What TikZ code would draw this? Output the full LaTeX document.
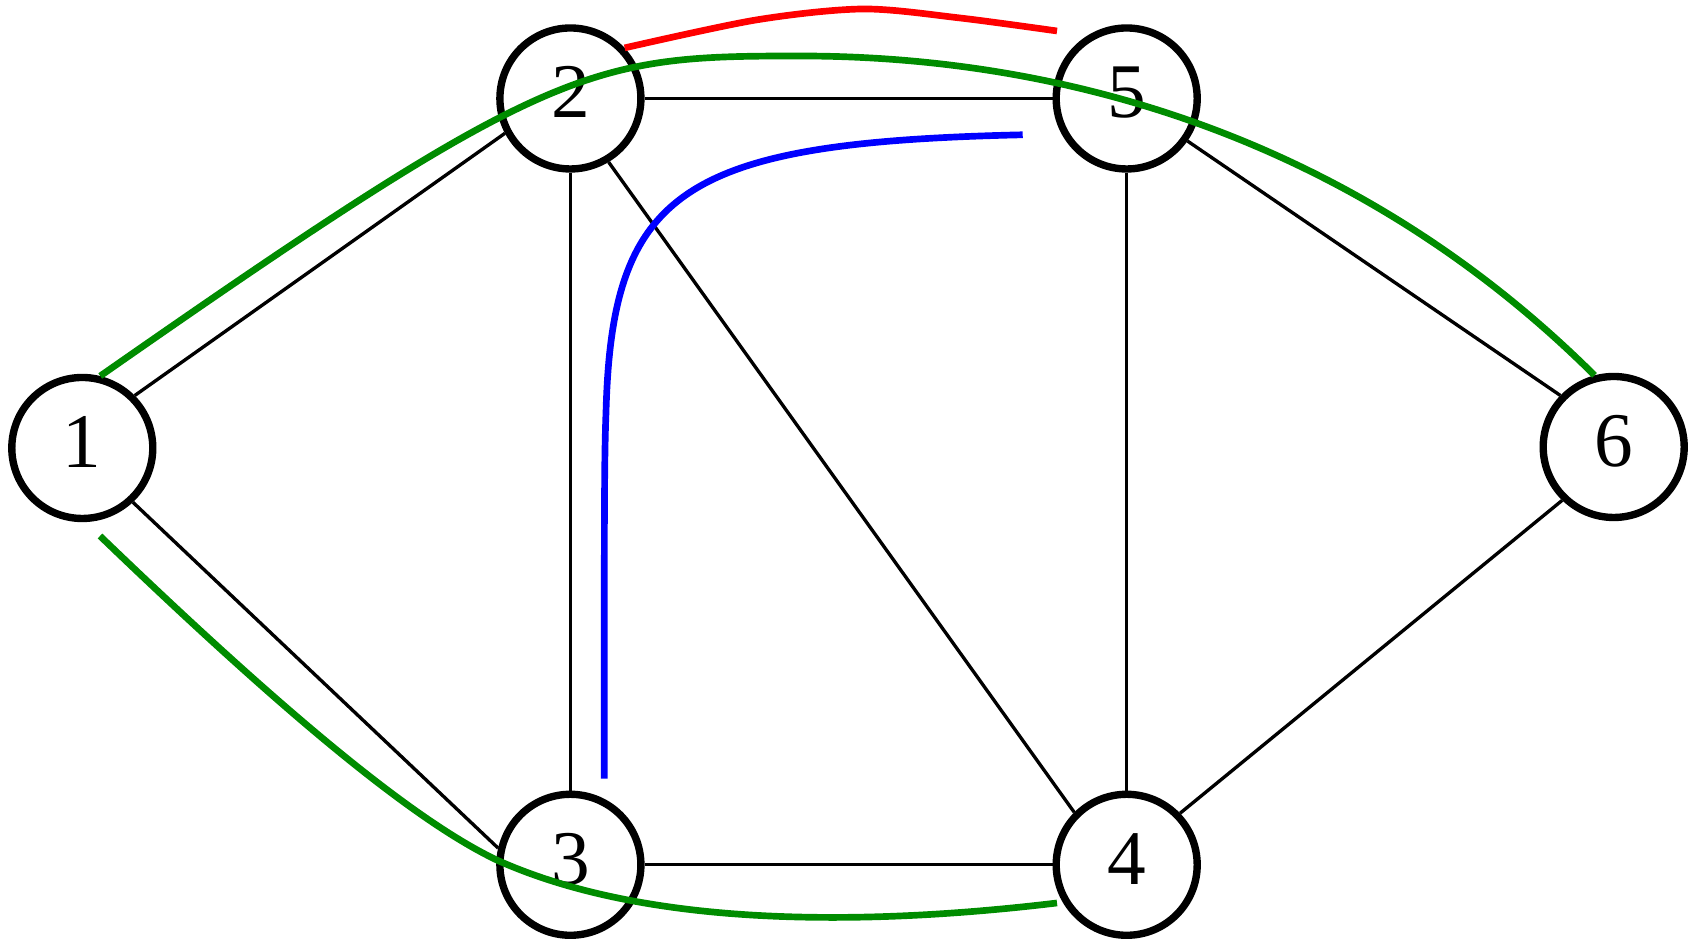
\documentclass[tikz,border=0pt]{standalone}
\usepackage{fontspec}
\setmainfont{Liberation Serif}
\definecolor{pathRed}{HTML}{FF0000}
\definecolor{pathGreen}{HTML}{008C00}
\definecolor{pathBlue}{HTML}{0000FF}
\def\vertsz{1.41}
\def\colL{5.704}
\def\colR{11.267}
\def\rowT{8.435}
\def\rowB{0.772}

\begin{document}
\begin{tikzpicture}[
  vert/.style={circle, draw, line width=2.1pt, minimum size=\vertsz cm, inner sep=0pt,
               font=\fontsize{22}{26}\selectfont, text height=0.53cm, text depth=0.14cm},
  edge/.style={line width=0.95pt},
  redpath/.style={draw=pathRed, line width=1.9pt},
  greenpath/.style={draw=pathGreen, line width=1.9pt},
  bluepath/.style={draw=pathBlue, line width=1.9pt},
]
\useasboundingbox (0,0) rectangle (16.97,9.42);

% =====================================================================
% VERTICES
% =====================================================================
\node[vert] (v1) at (0.823,4.94){1};
\node[vert] (v2) at (\colL,\rowT){2};
\node[vert] (v3) at (\colL,\rowB){3};
\node[vert] (v4) at (\colR,\rowB){4};
\node[vert] (v5) at (\colR,\rowT){5};
\node[vert] (v6) at (16.137,4.95){6};

% =====================================================================
% EDGES
% =====================================================================
\draw[edge] (v1.45)--(v2.208);
\draw[edge] (v1.-47)--(v3.167);
\draw[edge] (v2.south)--(v3.north);
\draw[edge] (v2.east)--(v5.west);
\draw[edge] (v2.-59)--(v4.135);
\draw[edge] (v5.south)--(v4.north);
\draw[edge] (v5.-35)--(v6.136);
\draw[edge] (v3.east)--(v4.west);
\draw[edge] (v4.44)--(v6.226);

% =====================================================================
% PATHS (drawn on top)
% =====================================================================
\coordinate (redEnd) at (10.57,9.11);
\draw[redpath] plot[smooth] coordinates {(v2.43) (7.56,9.22) (8.63,9.33) (9.60,9.24) (redEnd)};

% green, upper: 1 -> 6
\draw[greenpath] (v1.76) .. controls (5.5,8.80) and (5.9,8.86) .. (8.0,8.86)
  .. controls (10.8,8.86) and (13.66,7.94) .. (v6.105);

% green, lower: below 1 -> beside 4
\coordinate (greenA) at (1.00,4.06);
\coordinate (greenB) at (10.57,0.39);
\draw[greenpath] (greenA) .. controls (2.89,2.242) and (4.15,1.21) .. (4.967,0.82)
  .. controls (6.513,0.124) and (8.735,0.17) .. (greenB);

% blue: up beside 2-3, then across under 2-5
\coordinate (blueA) at (6.043,1.634);
\coordinate (blueB) at (10.227,8.072);
\draw[bluepath] (blueA) .. controls (6.043,4.0) and (6.04,4.8) .. (6.06,5.295)
  .. controls (6.118,7.524) and (6.825,7.995) .. (blueB);

\end{tikzpicture}
\end{document}
